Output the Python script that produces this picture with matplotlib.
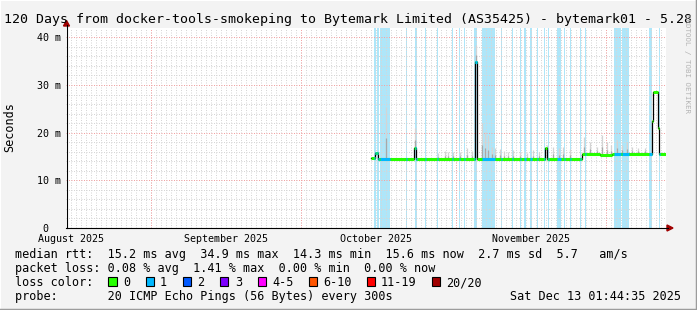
"""
Smokeping style 120 day latency graph, docker-tools-smokeping to Bytemark
"""

import numpy as np
import matplotlib

matplotlib.use("Agg")
import matplotlib.pyplot as plt
from matplotlib.lines import Line2D
from matplotlib.patches import Polygon, Rectangle

plt.rcParams["font.family"] = ["DejaVu Sans Mono"]

# 120 days ending at the time stamp of the graph
end_time = np.datetime64("2025-12-13T01:44:35")
n_days = 120
start_time = end_time - np.timedelta64(n_days, "D")

# median rtt (ms), piecewise constant between edges (days since start_time)
median_edges = [60.98, 61.78, 62.38, 69.58, 69.88, 81.78, 82.18, 95.78,
                96.18, 103.18, 106.78, 109.18, 117.08, 117.28, 118.44,
                118.64, 119.98]
median_ms = [14.6, 15.7, 14.5, 16.8, 14.4, 34.9, 14.4, 16.8, 14.4, 15.6,
             15.4, 15.6, 22.4, 28.5, 21.0, 15.6]

# periods where 1 of 20 pings was lost (days since start_time)
loss_start = [61.58, 62.08, 62.78, 67.98, 69.78, 71.78, 74.18, 77.18,
              78.48, 79.58, 81.48, 83.08, 86.98, 89.18, 90.78, 91.58,
              92.78, 94.18, 95.48, 96.28, 98.08, 99.48, 100.78, 102.68,
              103.78, 109.48, 111.18, 116.48, 118.48]
loss_end = [61.88, 62.48, 64.78, 68.18, 70.08, 71.98, 74.38, 77.38,
            78.68, 79.78, 82.18, 85.68, 87.18, 89.38, 90.98, 91.88,
            93.08, 94.38, 95.68, 96.58, 98.88, 99.68, 100.98, 102.88,
            103.98, 110.88, 112.48, 117.18, 118.68]

# smoke: top of the ping spread above the median (ms)
smoke_day = [63.98, 69.78, 74.38, 75.78, 76.38, 77.38, 78.78, 80.12, 81.12,
             81.92, 83.12, 83.78, 84.44, 85.12, 85.78, 86.78, 87.58, 88.44,
             89.44, 90.78, 92.12, 93.44, 94.64, 96.12, 97.44, 98.64, 99.44,
             100.78, 103.58, 104.78, 106.12, 107.12, 108.12, 108.98,
             110.12, 111.12, 112.12, 113.18, 114.38, 115.78]
smoke_top = [25.4, 21.0, 15.8, 16.2, 16.0, 16.0, 16.0, 16.8, 16.2, 38.4,
             22.0, 20.2, 19.5, 17.0, 16.8, 16.5, 16.2, 16.0, 16.3, 16.0,
             15.8, 16.3, 16.0, 17.5, 17.0, 16.8, 17.0, 16.5, 19.1, 18.0,
             17.0, 19.5, 18.0, 17.5, 18.4, 17.5, 18.0, 17.0, 16.8, 16.8]

month_starts = ["2025-09-01", "2025-10-01", "2025-11-01", "2025-12-01"]
month_mids = ["2025-08-16", "2025-09-16", "2025-10-16", "2025-11-16"]
month_names = ["August 2025", "September 2025", "October 2025", "November 2025"]

y_ticks = [0, 10, 20, 30, 40]
y_labels = ["0  ", "10 m", "20 m", "30 m", "40 m"]

loss_labels = ["0", "1", "2", "3", "4-5", "6-10", "11-19", "20/20"]
loss_colors = ["#26ff00", "#00b8ff", "#0059ff", "#7e00ff", "#ff00ff",
               "#ff5500", "#ff0000", "#a00000"]

title = ("120 Days from docker-tools-smokeping to Bytemark Limited "
         "(AS35425) - bytemark01 - 5.28")
stats_lines = [
    "median rtt:  15.2 ms avg  34.9 ms max  14.3 ms min  15.6 ms now  2.7 ms sd  5.7   am/s",
    "packet loss: 0.08 % avg  1.41 % max  0.00 % min  0.00 % now",
]
probe_text = "probe:       20 ICMP Echo Pings (56 Bytes) every 300s"
stamp = "Sat Dec 13 01:44:35 2025"

W, H = 697, 310
band_color = "#aee6f9"
grid_color = "#d6d6d6"
mgrid_color = "#f3a3a3"


def fx(px):
    return px / W


def fy(py):
    return 1 - py / H


def days(t):
    return (np.datetime64(t) - start_time) / np.timedelta64(1, "D")


def main():
    fig = plt.figure(figsize=(W / 100, H / 100), dpi=100, facecolor="#f3f3f3")
    ax = fig.add_axes([fx(66.1), fy(228), 600 / W, 200 / H])
    ax.set_facecolor("white")
    ax.set_xlim(0, n_days)
    ax.set_ylim(0, 41.95)
    for s in ax.spines.values():
        s.set_visible(False)

    # loss bands
    for s, e in zip(loss_start, loss_end):
        ax.axvspan(s, e, color=band_color, lw=0, zorder=1)

    # grid
    midnights = np.arange(np.datetime64("2025-08-16"), np.datetime64("2025-12-14"))
    for d in midnights:
        ax.axvline(days(d), color=grid_color, lw=0.72, ls=(0, (1, 1.5)), zorder=2)
    for y in np.arange(2, 42, 2):
        if y % 10:
            ax.axhline(y, color=grid_color, lw=0.72, ls=(0, (1, 1.5)), zorder=2)
    for m in month_starts:
        ax.axvline(days(m), color=mgrid_color, lw=0.72, ls=(0, (1, 1.5)), zorder=2)
    for y in y_ticks[1:]:
        ax.axhline(y, color=mgrid_color, lw=0.72, ls=(0, (1, 1.5)), zorder=2)

    # smoke
    edges = np.array(median_edges)
    meds = np.array(median_ms)
    idx = np.clip(np.searchsorted(edges, smoke_day, side="right") - 1, 0, len(meds) - 1)
    base = meds[idx]
    top = np.array(smoke_top)
    ax.vlines(smoke_day, base, top, color="#d4d4d4", lw=0.9, zorder=3)
    ax.vlines(smoke_day, base, base + (top - base) * 0.4, color="#a8a8a8", lw=0.9, zorder=3)

    # median line
    ax.plot(median_edges, median_ms + [median_ms[-1]], drawstyle="steps-post",
            color="black", lw=0.9, zorder=4)
    for i in range(len(median_ms)):
        a, b = median_edges[i], median_edges[i + 1]
        ax.hlines(median_ms[i], a, b, color=loss_colors[0], lw=2.2,
                  capstyle="butt", zorder=5)
        for s, e in zip(loss_start, loss_end):
            lo, hi = max(a, s), min(b, e)
            if hi > lo:
                ax.hlines(median_ms[i], lo, hi, color=loss_colors[1], lw=2.2,
                          capstyle="butt", zorder=6)

    # ticks
    ax.set_yticks(y_ticks, y_labels)
    ax.set_xticks([days(m) for m in month_mids], month_names)
    ax.tick_params(length=0, labelsize=7.2)
    ax.tick_params(axis="y", pad=4)
    ax.tick_params(axis="x", pad=4)
    fig.text(fx(10), fy(127), "Seconds", fontsize=8.5, rotation=90,
             ha="center", va="center")

    # axis lines with arrows
    ax_col = "#a00000"
    fig.add_artist(Line2D([fx(66.5), fx(66.5)], [fy(228), fy(25)], color="black",
                          lw=0.8, transform=fig.transFigure))
    fig.add_artist(Line2D([fx(66), fx(668)], [fy(228), fy(228)], color="black",
                          lw=0.8, transform=fig.transFigure))
    fig.add_artist(Polygon([[fx(63.5), fy(26)], [fx(69.5), fy(26)], [fx(66.5), fy(20.5)]],
                           closed=True, color=ax_col, transform=fig.transFigure))
    fig.add_artist(Polygon([[fx(667), fy(225)], [fx(667), fy(231)], [fx(673), fy(228)]],
                           closed=True, color=ax_col, transform=fig.transFigure))

    # texts
    fig.text(fx(4), fy(23.5), title, fontsize=9.5, va="baseline")
    fig.text(fx(686.5), fy(64), "RRDTOOL / TOBI OETIKER", fontsize=5.4,
             rotation=270, ha="center", va="center", color="#b4b4b4")

    rows = [257.7, 271.7, 286, 300]
    for line, yb in zip(stats_lines, rows):
        fig.text(fx(15), fy(yb), line, fontsize=8.5, va="baseline")
    fig.text(fx(15), fy(rows[2]), "loss color:", fontsize=8.5, va="baseline")
    bx = 108.3
    for lab, col in zip(loss_labels, loss_colors):
        fig.add_artist(Rectangle((fx(bx), fy(285.8)), 8.3 / W, 8.5 / H, facecolor=col,
                                 edgecolor="black", lw=0.8, transform=fig.transFigure))
        fig.text(fx(bx + 14.5), fy(rows[2]), lab, fontsize=8.5, va="baseline")
        bx += 30.4 + 6.9 * len(lab)
    fig.text(fx(15), fy(rows[3]), probe_text, fontsize=8.5, va="baseline")
    fig.text(fx(681), fy(rows[3]), stamp, fontsize=8.5, va="baseline", ha="right")

    # frame
    fig.add_artist(Line2D([0, 0, 1], [0, 1, 1], color="white", lw=1.5,
                          transform=fig.transFigure))
    fig.add_artist(Line2D([0, 1, 1], [0, 0, 1], color="#9c9c9c", lw=2.5,
                          transform=fig.transFigure))

    fig.savefig("out.png", dpi=100, facecolor=fig.get_facecolor())


if __name__ == "__main__":
    main()
